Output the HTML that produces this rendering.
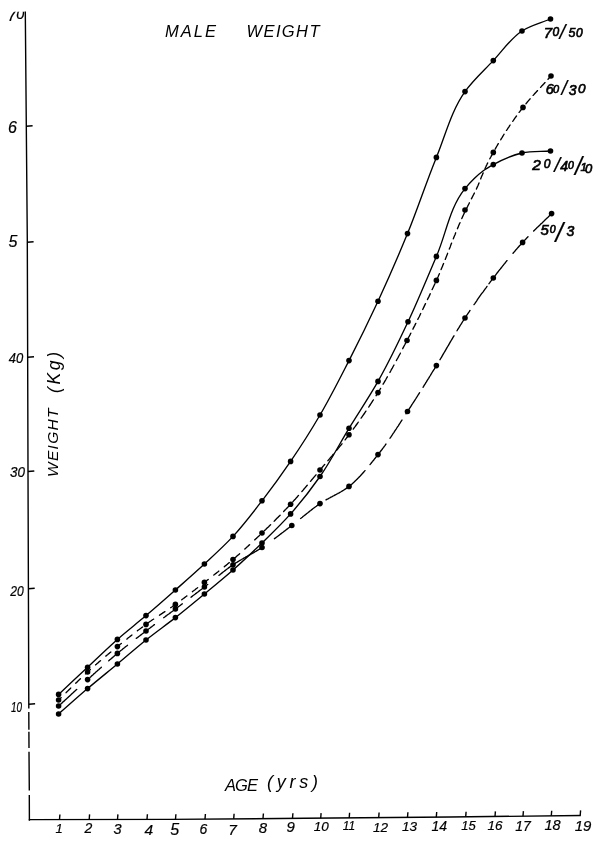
<!DOCTYPE html>
<html><head><meta charset="utf-8"><title>Male Weight</title>
<style>
html,body{margin:0;padding:0;background:#fff;}
body{width:600px;height:846px;overflow:hidden;}
svg{display:block;}
.ln{fill:none;stroke:#000;stroke-width:1.35;stroke-linecap:round;stroke-linejoin:round;}
.ax{fill:none;stroke:#000;stroke-width:1.4;stroke-linecap:butt;}
.t{font-family:"Liberation Sans",sans-serif;font-style:italic;fill:#000;}
.n{stroke:#000;stroke-width:0.2;}
.b{stroke:#000;stroke-width:0.65;}
</style></head><body>
<svg width="600" height="846" viewBox="0 0 600 846">
<defs><clipPath id="c70"><rect x="0" y="11.7" width="24.6" height="20"/></clipPath></defs>
<rect width="600" height="846" fill="#fff"/>
<path d="M25.3 11.5 L27.3 240 L28 470 L28.8 704" class="ax"/>
<path d="M28.8 704 L28.8 708.5 M28.8 712 L28.9 729.7 M28.9 731.8 L29 748 M29 751.8 L29.3 790.5 M29.3 795 L29.4 820.7" class="ax"/>
<path d="M28.8 819.6 L170 819.4 L305 818.3 L450 817 L580.8 815.5" class="ax"/>
<path d="M59.5 819.6 L59.9 814.5" class="ax"/>
<path d="M89.2 819.5 L89.6 814.4" class="ax"/>
<path d="M117.5 819.5 L117.9 814.4" class="ax"/>
<path d="M147.0 819.4 L147.4 814.3" class="ax"/>
<path d="M175.5 819.4 L175.9 814.3" class="ax"/>
<path d="M205.0 819.1 L205.4 814.0" class="ax"/>
<path d="M233.7 818.9 L234.1 813.8" class="ax"/>
<path d="M263.0 818.6 L263.4 813.5" class="ax"/>
<path d="M292.5 818.4 L292.9 813.3" class="ax"/>
<path d="M320.7 818.2 L321.1 813.1" class="ax"/>
<path d="M349.2 817.9 L349.6 812.8" class="ax"/>
<path d="M378.7 817.6 L379.1 812.5" class="ax"/>
<path d="M407.5 817.4 L407.9 812.3" class="ax"/>
<path d="M436.3 817.1 L436.7 812.0" class="ax"/>
<path d="M465.7 816.8 L466.1 811.7" class="ax"/>
<path d="M495.0 816.5 L495.4 811.4" class="ax"/>
<path d="M523.0 816.2 L523.4 811.1" class="ax"/>
<path d="M551.3 815.8 L551.7 810.7" class="ax"/>
<path d="M580.2 815.5 L580.6 810.4" class="ax"/>
<path d="M28.8 704.3 L35.1 703.8" class="ax"/>
<path d="M28.4 588.7 L34.7 588.2" class="ax"/>
<path d="M28.0 471.5 L34.3 471.0" class="ax"/>
<path d="M27.7 357.3 L34.0 356.8" class="ax"/>
<path d="M27.3 242.3 L33.6 241.8" class="ax"/>
<path d="M26.3 126.3 L32.6 125.8" class="ax"/>
<path d="M58.6 694.4 C68.3 685.3 77.9 676.3 87.6 667.2 C97.5 657.9 107.2 648.4 117.4 639.4 C126.7 631.2 136.6 623.6 146.0 615.6 C155.9 607.2 165.7 598.6 175.4 590.0 C185.1 581.4 194.9 572.8 204.4 564.0 C214.1 555.0 224.0 546.1 233.0 536.4 C243.4 525.2 252.7 512.9 262.0 500.8 C271.9 488.0 281.5 474.8 290.6 461.4 C300.9 446.3 310.8 430.8 320.0 415.0 C330.4 397.3 339.6 378.9 349.0 360.6 C359.0 341.0 368.7 321.2 378.0 301.2 C388.3 278.9 398.2 256.3 407.5 233.6 C417.8 208.5 426.1 182.5 436.4 157.4 C445.4 135.3 451.3 110.8 465.0 91.6 C473.0 80.3 483.7 70.8 493.3 60.6 C502.7 50.6 510.7 38.3 522.0 31.0 C530.5 25.5 541.0 23.0 550.5 19.0" class="ln"/>
<path d="M58.6 714.0 C68.3 705.5 77.8 696.9 87.6 688.6 C97.4 680.3 107.5 672.2 117.4 664.0 C127.0 656.0 136.3 647.8 146.0 640.0 C155.6 632.3 165.7 625.2 175.4 617.6 C185.2 609.9 194.8 601.9 204.4 594.0 C214.0 586.1 223.7 578.2 233.0 570.0 C242.9 561.3 252.5 552.2 262.0 543.0 C271.7 533.5 281.6 524.1 290.6 513.9 C301.1 502.1 310.9 489.5 320.0 476.5 C330.7 461.2 339.2 444.3 349.0 428.3 C358.6 412.6 369.0 397.4 378.0 381.4 C388.9 362.1 398.6 341.9 408.0 321.8 C418.1 300.3 427.0 278.2 436.4 256.4 C446.1 233.9 449.6 207.4 465.0 188.6 C467.8 185.2 470.8 181.8 474.0 178.7 C476.9 175.9 480.0 173.1 483.3 170.7 C486.5 168.4 489.9 166.5 493.3 164.6 C502.3 159.6 512.1 155.2 522.0 153.0 C531.2 150.9 541.0 151.7 550.5 151.0" class="ln"/>
<path d="M58.6 700.0 L59.3 699.3 L60.0 698.6 L60.8 697.9 L61.1 697.6 M66.1 692.7 L66.5 692.2 L67.2 691.5 L68.0 690.8 L68.7 690.1 L69.4 689.4 L70.1 688.7 L70.7 688.1 M75.7 683.2 L75.9 683.1 L76.6 682.4 L77.3 681.7 L78.0 681.0 L78.8 680.3 L79.5 679.6 L80.2 678.9 L80.4 678.7 M85.5 673.9 L86.1 673.4 L86.9 672.7 L87.6 672.0 L88.3 671.3 L89.1 670.7 L89.8 670.0 L90.3 669.5 M95.6 664.9 L95.6 664.8 L96.4 664.2 L97.1 663.6 L97.9 662.9 L98.6 662.3 L99.3 661.6 L100.1 661.0 L100.5 660.7 M105.8 656.1 L106.1 655.9 L106.8 655.3 L107.6 654.7 L108.3 654.1 L109.1 653.4 L109.8 652.8 L110.6 652.2 L110.8 652.0 M116.3 647.5 L116.6 647.2 L117.4 646.6 L118.1 646.0 L118.8 645.5 L119.5 644.9 L120.2 644.3 L120.9 643.8 L121.3 643.4 M126.8 639.1 L127.3 638.7 L128.0 638.1 L128.7 637.5 L129.4 637.0 L130.1 636.4 L130.8 635.9 L131.6 635.3 L131.9 635.0 M137.4 630.8 L138.0 630.3 L138.7 629.8 L139.5 629.2 L140.2 628.7 L140.9 628.2 L141.6 627.6 L142.4 627.1 L142.6 626.9 M148.3 622.8 L148.9 622.3 L149.6 621.8 L150.3 621.3 L151.1 620.8 L151.8 620.3 L152.5 619.8 L153.3 619.3 L153.6 619.1 M159.5 615.2 L159.9 614.9 L160.7 614.4 L161.4 613.9 L162.2 613.4 L162.9 612.9 L163.7 612.4 L164.4 611.9 L164.9 611.6 M170.7 607.7 L171.0 607.5 L171.8 607.0 L172.5 606.5 L173.2 605.9 L174.0 605.4 L174.7 604.9 L175.4 604.4 L176.0 604.0 M181.7 599.8 L182.0 599.6 L182.7 599.0 L183.5 598.5 L184.2 597.9 L184.9 597.4 L185.7 596.8 L186.4 596.3 L186.9 595.9 M192.4 591.7 L192.9 591.3 L193.6 590.8 L194.3 590.2 L195.1 589.7 L195.8 589.1 L196.5 588.5 L197.2 588.0 L197.6 587.7 M203.1 583.4 L203.7 583.0 L204.4 582.4 L205.1 581.8 L205.8 581.3 L206.6 580.7 L207.3 580.1 L208.0 579.6 L208.2 579.4 M213.7 575.1 L213.8 575.1 L214.5 574.5 L215.2 573.9 L216.0 573.4 L216.7 572.8 L217.4 572.2 L218.1 571.7 L218.8 571.1 L218.9 571.1 M224.3 566.7 L224.5 566.5 L225.3 565.9 L226.0 565.4 L226.7 564.8 L227.4 564.2 L228.1 563.6 L228.8 563.0 L229.3 562.6 M234.7 558.1 L235.2 557.6 L236.0 556.9 L236.7 556.3 L237.5 555.6 L238.2 555.0 L238.9 554.4 L239.6 553.8 M244.8 549.1 L244.8 549.1 L245.5 548.4 L246.2 547.8 L247.0 547.1 L247.7 546.5 L248.4 545.8 L249.1 545.1 L249.6 544.7 M254.7 539.9 L254.9 539.8 L255.6 539.1 L256.3 538.4 L257.0 537.7 L257.7 537.1 L258.4 536.4 L259.2 535.7 L259.4 535.5 M264.5 530.6 L264.9 530.2 L265.7 529.5 L266.4 528.8 L267.1 528.1 L267.8 527.4 L268.6 526.7 L269.3 525.9 L270.0 525.2 L270.6 524.7 M274.1 521.2 L274.4 521.0 L275.1 520.2 L275.8 519.5 L276.5 518.8 L277.2 518.1 L277.9 517.4 L278.7 516.6 L279.4 515.9 L280.1 515.2 L280.1 515.2 M283.6 511.6 L283.6 511.6 L284.3 510.8 L285.0 510.1 L285.7 509.4 L286.4 508.6 L287.1 507.9 L287.8 507.2 L288.5 506.4 L289.2 505.7 L289.5 505.4 M292.9 501.8 L292.9 501.7 L293.6 500.9 L294.4 500.0 L295.2 499.2 L295.9 498.4 L296.7 497.5 L297.4 496.7 L298.1 495.8 L298.5 495.4 M301.8 491.6 L301.8 491.6 L302.6 490.7 L303.3 489.9 L304.0 489.0 L304.8 488.1 L305.5 487.3 L306.2 486.4 L307.0 485.6 L307.3 485.2 M310.5 481.3 L310.6 481.2 L311.3 480.4 L312.0 479.5 L312.8 478.6 L313.5 477.8 L314.2 476.9 L314.9 476.1 L315.7 475.2 L316.0 474.8 M319.2 471.0 L319.3 470.9 L320.0 470.0 L320.7 469.1 L321.5 468.3 L322.2 467.4 L322.9 466.5 L323.7 465.6 L324.4 464.8 L324.7 464.5 M327.9 460.7 L328.1 460.4 L328.8 459.6 L329.6 458.7 L330.3 457.8 L331.1 456.9 L331.8 456.1 L332.5 455.2 L333.3 454.3 L333.4 454.2 M336.6 450.3 L336.9 450.0 L337.7 449.1 L338.4 448.2 L339.1 447.3 L339.8 446.4 L340.5 445.5 L341.3 444.7 L342.0 443.8 L342.0 443.8 M345.1 439.9 L345.5 439.3 L346.2 438.4 L346.9 437.5 L347.6 436.6 L348.3 435.7 L349.0 434.8 L349.8 433.8 L350.3 433.1 M353.3 429.1 L353.6 428.6 L354.3 427.6 L355.1 426.6 L355.9 425.5 L356.6 424.5 L357.4 423.5 L358.1 422.4 L358.2 422.2 M361.1 418.1 L361.8 417.2 L362.5 416.1 L363.2 415.1 L364.0 414.0 L364.7 413.0 L365.4 411.9 L365.9 411.1 M368.7 407.0 L369.0 406.6 L369.7 405.5 L370.4 404.5 L371.1 403.4 L371.8 402.3 L372.5 401.2 L373.2 400.2 L373.4 399.9 M376.1 395.7 L376.6 394.8 L377.3 393.7 L378.0 392.6 L378.8 391.3 L379.6 390.1 L380.3 388.8 L380.6 388.4 M383.1 384.2 L383.4 383.7 L384.2 382.4 L384.9 381.1 L385.7 379.8 L386.4 378.5 L387.2 377.2 L387.4 376.8 M389.9 372.5 L390.1 372.1 L390.8 370.8 L391.5 369.4 L392.3 368.1 L393.0 366.8 L393.7 365.5 L394.0 365.0 M396.4 360.6 L396.5 360.3 L397.2 359.0 L398.0 357.6 L398.7 356.3 L399.4 355.0 L400.1 353.7 L400.4 353.1 M402.7 348.7 L402.8 348.4 L403.5 347.1 L404.2 345.8 L404.9 344.5 L405.6 343.1 L405.7 342.9 M407.8 339.0 L408.5 337.5 L409.3 336.1 L410.1 334.6 L410.8 333.2 M412.9 329.2 L413.1 328.6 L413.9 327.1 L414.7 325.6 L415.4 324.1 L415.8 323.4 M417.8 319.4 L418.4 318.2 L419.2 316.7 L419.9 315.2 L420.6 313.7 L420.7 313.5 M422.7 309.5 L422.9 309.2 L423.6 307.6 L424.3 306.1 L425.0 304.6 L425.5 303.6 M427.5 299.6 L427.9 298.6 L428.7 297.1 L429.4 295.6 L430.1 294.1 L430.2 293.7 M432.1 289.6 L432.2 289.5 L432.9 288.0 L433.6 286.5 L434.3 285.0 L434.9 283.7 M436.7 279.6 L437.2 278.7 L438.0 276.9 L438.7 275.2 L439.4 273.7 M441.1 269.6 L441.7 268.1 L442.4 266.4 L443.1 264.6 L443.6 263.5 M445.3 259.4 L445.3 259.3 L446.0 257.5 L446.7 255.8 L447.4 254.0 L447.6 253.3 M449.3 249.1 L449.5 248.6 L450.2 246.9 L450.8 245.1 L451.5 243.3 L451.6 243.1 M453.3 238.9 L453.6 238.0 L454.3 236.2 L455.1 234.4 L455.7 232.8 M457.4 228.7 L458.0 227.4 L458.7 225.6 L459.4 223.9 L460.0 222.7 M461.8 218.6 L462.5 216.9 L463.3 215.2 L464.1 213.4 L464.5 212.7 M466.5 208.6 L466.5 208.5 L466.7 208.2 L466.8 207.9 L467.0 207.7 L467.1 207.4 L467.3 207.1 L467.4 206.8 L467.6 206.5 L467.7 206.2 L467.8 205.9 L468.0 205.6 L468.1 205.3 L468.3 205.0 L468.4 204.7 L468.6 204.4 L468.7 204.1 L468.9 203.9 L469.0 203.6 L469.2 203.3 L469.3 203.0 L469.4 202.8 M471.4 198.8 L471.6 198.6 L471.7 198.3 L471.8 198.0 L472.0 197.8 L472.1 197.5 L472.2 197.2 L472.4 197.0 L472.5 196.7 L472.7 196.4 L472.8 196.1 L472.9 195.9 L473.1 195.6 L473.2 195.3 L473.3 195.1 L473.5 194.8 L473.6 194.5 L473.8 194.3 L473.9 194.0 L474.0 193.7 L474.2 193.5 L474.3 193.2 L474.4 193.0 M476.4 189.0 L476.5 188.9 L476.6 188.6 L476.7 188.3 L476.8 188.0 L477.0 187.8 L477.1 187.5 L477.2 187.2 L477.4 186.9 L477.5 186.6 L477.6 186.3 L477.8 186.0 L477.9 185.7 L478.0 185.4 L478.2 185.1 L478.3 184.8 L478.4 184.5 L478.5 184.2 L478.7 183.9 L478.8 183.6 L478.9 183.3 L479.0 183.0 M480.7 178.9 L480.7 178.7 L480.8 178.4 L481.0 178.1 L481.1 177.8 L481.2 177.5 L481.3 177.2 L481.5 176.9 L481.6 176.6 L481.7 176.3 L481.8 176.0 L482.0 175.7 L482.1 175.4 L482.2 175.1 L482.4 174.8 L482.5 174.5 L482.6 174.2 L482.8 173.9 L482.9 173.6 L483.0 173.3 L483.1 173.0 L483.2 172.9 M485.0 168.7 L485.0 168.7 L485.1 168.4 L485.3 168.1 L485.4 167.8 L485.5 167.5 L485.7 167.2 L485.8 166.9 L485.9 166.6 L486.1 166.3 L486.2 166.0 L486.4 165.7 L486.5 165.4 L486.6 165.1 L486.8 164.8 L486.9 164.5 L487.1 164.2 L487.2 163.9 L487.4 163.6 L487.5 163.3 L487.6 163.0 L487.7 162.9 M489.8 158.9 L489.9 158.6 L490.0 158.4 L490.2 158.1 L490.3 157.8 L490.5 157.5 L490.6 157.3 L490.8 157.0 L490.9 156.7 L491.1 156.5 L491.2 156.2 L491.4 155.9 L491.5 155.6 L491.7 155.4 L491.8 155.1 L492.0 154.8 L492.1 154.6 L492.3 154.3 L492.4 154.0 L492.6 153.7 L492.7 153.5 L492.9 153.2 L492.9 153.1 M495.1 149.2 L495.3 148.9 L496.0 147.7 L496.6 146.5 L497.3 145.4 L498.0 144.2 L498.3 143.6 M500.7 139.7 L500.8 139.6 L501.5 138.4 L502.2 137.3 L502.9 136.1 L503.6 135.0 L504.1 134.2 M506.5 130.4 L506.5 130.4 L507.3 129.3 L508.0 128.2 L508.8 127.1 L509.5 125.9 L510.1 125.0 M512.7 121.3 L513.4 120.4 L514.1 119.3 L514.9 118.2 L515.7 117.1 L516.5 116.0 M519.1 112.4 L519.7 111.7 L520.5 110.6 L521.3 109.5 L522.2 108.5 L523.0 107.4 L523.1 107.3 M525.9 103.8 L526.3 103.3 L527.0 102.5 L527.6 101.7 L528.3 100.9 L529.0 100.1 L529.7 99.3 L530.1 98.8 M533.1 95.4 L533.2 95.4 L533.9 94.6 L534.6 93.8 L535.3 93.0 L536.0 92.3 L536.7 91.5 L537.4 90.7 L537.5 90.6 M540.6 87.3 L541.0 86.9 L541.7 86.1 L542.5 85.3 L543.2 84.5 L543.9 83.8 L544.6 83.0 L545.0 82.6 M548.0 79.3 L548.2 79.1 L548.9 78.3 L549.6 77.6 L550.3 76.8 L551.0 76.0" class="ln"/>
<path d="M58.6 706.0 L59.3 705.3 L60.0 704.7 L60.8 704.0 L61.5 703.4 L62.2 702.7 L62.9 702.0 L63.7 701.4 L64.4 700.7 L65.1 700.1 L65.8 699.4 L66.6 698.7 L67.3 698.1 L68.0 697.4 L68.7 696.7 L69.5 696.1 L70.2 695.4 L70.9 694.8 L71.6 694.1 L72.3 693.4 L73.1 692.8 L73.8 692.1 L74.5 691.4 L75.2 690.8 L76.0 690.1 L76.7 689.5 L76.7 689.5 M90.0 677.4 L90.6 677.0 L91.3 676.3 L92.0 675.6 L92.8 675.0 L93.5 674.3 L94.2 673.6 L95.0 673.0 L95.7 672.3 L96.5 671.6 L97.2 671.0 L97.9 670.3 L98.7 669.7 L99.4 669.0 L100.2 668.3 L100.9 667.7 L101.3 667.3 M108.7 660.8 L109.1 660.5 L109.8 659.8 L110.6 659.2 L111.3 658.5 L112.1 657.9 L112.8 657.2 L113.6 656.6 L114.4 655.9 L115.1 655.3 L115.9 654.7 L116.6 654.0 L117.4 653.4 L118.1 652.8 L118.8 652.2 L119.5 651.7 L120.2 651.1 L120.9 650.5 L121.6 650.0 L122.3 649.4 L123.0 648.8 L123.7 648.2 L124.5 647.7 L125.2 647.1 L125.9 646.5 L126.6 646.0 L127.3 645.4 L127.5 645.3 M136.3 638.4 L136.6 638.2 L137.3 637.6 L138.1 637.1 L138.8 636.5 L139.5 636.0 L140.2 635.4 L141.0 634.9 L141.7 634.3 L142.4 633.8 L143.1 633.2 L143.8 632.7 L144.6 632.1 L145.3 631.6 L146.0 631.0 L146.7 630.4 L147.5 629.9 L148.2 629.3 L148.9 628.8 L149.7 628.2 L150.4 627.7 L151.1 627.1 L151.9 626.6 L152.6 626.0 L153.3 625.5 L154.1 624.9 L154.4 624.6 M163.7 617.7 L164.4 617.2 L165.1 616.7 L165.8 616.1 L166.6 615.6 L167.3 615.0 L168.0 614.5 L168.8 614.0 L169.5 613.4 L170.3 612.9 L171.0 612.3 L171.7 611.8 L172.5 611.2 L173.2 610.7 L173.9 610.1 L174.7 609.6 L175.4 609.0 L176.1 608.5 L176.9 607.9 L177.6 607.4 L178.3 606.8 L179.0 606.3 L179.8 605.7 L180.5 605.2 L181.2 604.6 L181.9 604.1 L182.3 603.8 M191.0 597.2 L191.4 596.9 L192.1 596.4 L192.8 595.8 L193.5 595.3 L194.3 594.7 L195.0 594.2 L195.7 593.6 L196.4 593.1 L197.2 592.5 L197.9 592.0 L198.6 591.4 L199.3 590.9 L200.1 590.3 L200.8 589.8 L201.5 589.2 L202.2 588.7 L203.0 588.1 L203.7 587.6 L204.4 587.0 L205.1 586.4 L205.8 585.9 L206.5 585.3 L207.3 584.8 L207.7 584.4 M219.0 575.3 L219.3 575.1 L220.0 574.6 L220.7 574.0 L221.4 573.4 L222.1 572.9 L222.8 572.3 L223.5 571.7 L224.2 571.2 L225.0 570.6 L225.7 570.1 L226.4 569.5 L227.1 569.0 L227.8 568.5 L228.6 567.9 L229.3 567.4 L230.0 566.9 L230.8 566.3 L231.5 565.8 L232.3 565.3 L233.0 564.8 L233.7 564.3 L234.4 563.9 L235.1 563.4 L235.8 562.9 L236.5 562.5 L237.2 562.1 L238.0 561.6 L238.7 561.2 L239.4 560.7 L240.1 560.3 L240.9 559.9 L241.6 559.5 L242.3 559.0 L243.1 558.6 L243.8 558.2 L244.5 557.8 L245.3 557.4 L246.0 556.9 L246.7 556.5 L247.5 556.1 L248.2 555.7 L248.9 555.3 L249.7 554.9 L250.4 554.5 L251.2 554.0 L251.9 553.6 L252.6 553.2 L253.4 552.8 L254.1 552.4 L254.8 551.9 L255.5 551.5 L256.3 551.1 L257.0 550.6 L257.7 550.2 L258.4 549.8 L259.2 549.3 L259.9 548.9 L260.6 548.4 L261.3 548.0 L262.0 547.5 M274.4 538.7 L274.8 538.4 L275.6 537.9 L276.3 537.3 L277.1 536.7 L277.8 536.2 L278.5 535.6 L279.3 535.1 L280.0 534.5 L280.8 533.9 L281.5 533.4 L282.2 532.8 L283.0 532.3 L283.7 531.7 L284.4 531.1 L285.2 530.6 L285.9 530.0 L286.6 529.4 L287.4 528.9 L288.1 528.3 L288.9 527.7 L289.6 527.2 L290.3 526.6 L291.1 526.1 L291.6 525.7 M300.6 518.5 L300.9 518.3 L301.6 517.7 L302.3 517.2 L303.0 516.6 L303.7 516.0 L304.4 515.5 L305.1 514.9 L305.8 514.4 L306.5 513.8 L307.2 513.2 L307.9 512.7 L308.6 512.1 L309.3 511.6 L310.0 511.0 L310.7 510.5 L311.4 509.9 L312.1 509.4 L312.8 508.8 L313.5 508.3 L314.2 507.7 L314.9 507.2 L315.6 506.7 L316.4 506.2 L317.1 505.6 L317.8 505.1 L318.5 504.6 L319.3 504.1 L320.0 503.6 M326.0 499.9 L326.5 499.6 L327.2 499.2 L328.0 498.8 L328.7 498.4 L329.5 498.0 L330.2 497.6 L330.9 497.2 L331.7 496.8 L332.4 496.4 L333.2 496.0 L334.0 495.6 L334.7 495.2 L335.4 494.8 L336.2 494.4 L336.9 494.0 L337.7 493.6 L338.4 493.2 L339.2 492.8 L339.9 492.4 L340.6 492.0 L341.4 491.5 L342.1 491.1 L342.8 490.7 L343.5 490.2 L344.2 489.8 L344.9 489.3 L345.6 488.9 L346.3 488.4 L347.0 487.9 L347.7 487.4 L348.3 486.9 L349.0 486.4 L349.8 485.7 L350.7 485.1 L351.5 484.4 L352.3 483.7 L353.1 483.0 L353.9 482.3 L354.7 481.5 L355.4 480.8 L356.2 480.1 L357.0 479.3 L357.7 478.5 L358.5 477.8 L359.2 477.0 L360.0 476.2 L360.7 475.4 L361.5 474.6 L362.2 473.8 L362.9 473.0 L363.6 472.2 L364.3 471.4 L365.0 470.6 M370.0 464.6 L370.6 463.9 L371.3 463.0 L371.9 462.2 L372.6 461.4 L373.3 460.5 L374.0 459.7 L374.6 458.8 L375.3 458.0 L376.0 457.1 L376.7 456.3 L377.3 455.4 L378.0 454.6 L378.8 453.6 L379.6 452.6 L380.4 451.5 L381.2 450.5 L382.0 449.5 L382.8 448.4 L383.6 447.4 L384.3 446.3 L385.1 445.3 L385.9 444.2 L386.0 444.0 M390.0 438.2 L390.3 437.8 L391.1 436.7 L391.8 435.6 L392.5 434.5 L393.2 433.4 L394.0 432.3 L394.7 431.2 L395.4 430.1 L396.1 429.1 L396.8 428.0 L397.5 426.9 L398.3 425.8 L399.0 424.7 L399.7 423.6 L400.4 422.5 L401.1 421.4 L401.8 420.3 L402.0 420.0 M406.0 413.8 L406.1 413.7 L406.8 412.6 L407.5 411.5 L408.2 410.4 L409.0 409.2 L409.7 408.1 L410.5 407.0 L411.2 405.8 L411.9 404.7 L412.7 403.5 L413.4 402.4 L414.1 401.3 L414.9 400.1 L415.6 399.0 L416.3 397.8 L417.1 396.7 L417.8 395.5 L418.5 394.4 L419.2 393.3 L419.6 392.7 M423.0 387.3 L423.6 386.4 L424.3 385.2 L425.0 384.1 L425.7 382.9 L426.4 381.8 L427.1 380.6 L427.9 379.4 L428.6 378.3 L429.3 377.1 L430.0 376.0 L430.7 374.8 L431.4 373.7 L432.1 372.5 L432.8 371.4 L433.6 370.2 L434.3 369.1 L435.0 367.9 L435.7 366.8 L436.4 365.6 M440.0 359.7 L440.7 358.5 L441.4 357.3 L442.1 356.1 L442.8 354.9 L443.5 353.7 L444.2 352.5 L444.9 351.3 L445.6 350.1 L446.3 348.9 L447.0 347.7 L447.7 346.5 L448.4 345.3 L449.1 344.1 L449.8 342.9 L450.5 341.7 L451.2 340.5 L451.9 339.3 L452.6 338.1 L453.3 336.9 L454.0 335.8 M457.0 330.8 L457.6 329.7 L458.3 328.6 L459.1 327.4 L459.8 326.2 L460.5 325.0 L461.3 323.8 L462.0 322.7 L462.7 321.5 L463.5 320.3 L464.2 319.2 L465.0 318.0 L465.7 317.0 L466.3 316.0 L467.0 314.9 L467.7 313.9 L468.4 312.9 L469.1 311.9 L469.7 310.9 L470.0 310.5 M474.0 304.6 L474.6 303.8 L475.3 302.8 L476.0 301.8 L476.7 300.8 L477.4 299.7 L478.1 298.7 L478.8 297.7 L479.5 296.7 L480.2 295.7 L480.9 294.7 L481.6 293.7 L482.3 292.8 L483.1 291.8 L483.8 290.8 L484.5 289.8 L485.2 288.8 L486.0 287.8 L486.7 286.8 L487.0 286.4 M489.0 283.7 L489.6 282.9 L490.3 281.9 L491.1 280.9 L491.8 279.9 L492.6 279.0 L493.3 278.0 L494.0 277.1 L494.7 276.2 L495.4 275.3 L496.1 274.3 L496.8 273.4 L497.5 272.5 L498.2 271.6 L498.9 270.7 L499.6 269.8 L500.4 268.9 L501.1 268.0 L501.8 267.1 L502.5 266.2 L503.2 265.3 L503.9 264.4 L504.7 263.5 L505.4 262.6 L506.1 261.7 L506.8 260.8 L507.0 260.6 M513.0 253.3 L513.5 252.8 L514.2 251.9 L515.0 251.0 L515.7 250.1 L516.5 249.3 L517.2 248.4 L518.0 247.5 L518.7 246.7 L519.5 245.8 L520.3 245.0 L521.1 244.1 L521.8 243.3 L522.6 242.4 L523.3 241.6 L524.0 240.9 L524.7 240.2 L525.4 239.4 L526.1 238.7 L526.8 237.9 L527.5 237.2 L528.0 236.7 M533.6 231.1 L534.0 230.7 L534.7 230.0 L535.5 229.3 L536.2 228.6 L536.9 227.8 L537.7 227.1 L538.4 226.4 L539.1 225.7 L539.9 225.0 L540.6 224.3 L541.3 223.6 L542.1 222.9 L542.8 222.2 L543.5 221.4 L544.3 220.7 L545.0 220.0 L545.8 219.3 L546.5 218.6 L547.2 217.9 L548.0 217.2 L548.7 216.5 L549.4 215.8 L550.1 215.0 L550.9 214.3 L551.6 213.6" class="ln"/>
<g fill="#000"><circle cx="58.6" cy="694.4" r="2.8"/><circle cx="87.6" cy="667.2" r="2.8"/><circle cx="117.4" cy="639.4" r="2.8"/><circle cx="146.0" cy="615.6" r="2.8"/><circle cx="175.4" cy="590.0" r="2.8"/><circle cx="204.4" cy="564.0" r="2.8"/><circle cx="233.0" cy="536.4" r="2.8"/><circle cx="262.0" cy="500.8" r="2.8"/><circle cx="290.6" cy="461.4" r="2.8"/><circle cx="320.0" cy="415.0" r="2.8"/><circle cx="349.0" cy="360.6" r="2.8"/><circle cx="378.0" cy="301.2" r="2.8"/><circle cx="407.5" cy="233.6" r="2.8"/><circle cx="436.4" cy="157.4" r="2.8"/><circle cx="465.0" cy="91.6" r="2.8"/><circle cx="493.3" cy="60.6" r="2.8"/><circle cx="522.0" cy="31.0" r="2.8"/><circle cx="550.5" cy="19.0" r="2.8"/><circle cx="58.6" cy="714.0" r="2.8"/><circle cx="87.6" cy="688.6" r="2.8"/><circle cx="117.4" cy="664.0" r="2.8"/><circle cx="146.0" cy="640.0" r="2.8"/><circle cx="175.4" cy="617.6" r="2.8"/><circle cx="204.4" cy="594.0" r="2.8"/><circle cx="233.0" cy="570.0" r="2.8"/><circle cx="262.0" cy="543.0" r="2.8"/><circle cx="290.6" cy="513.9" r="2.8"/><circle cx="320.0" cy="476.5" r="2.8"/><circle cx="349.0" cy="428.3" r="2.8"/><circle cx="378.0" cy="381.4" r="2.8"/><circle cx="408.0" cy="321.8" r="2.8"/><circle cx="436.4" cy="256.4" r="2.8"/><circle cx="465.0" cy="188.6" r="2.8"/><circle cx="493.3" cy="164.6" r="2.8"/><circle cx="522.0" cy="153.0" r="2.8"/><circle cx="550.5" cy="151.0" r="2.8"/><circle cx="58.6" cy="700.0" r="2.8"/><circle cx="87.6" cy="672.0" r="2.8"/><circle cx="117.4" cy="646.6" r="2.8"/><circle cx="146.0" cy="624.4" r="2.8"/><circle cx="175.4" cy="604.4" r="2.8"/><circle cx="204.4" cy="582.4" r="2.8"/><circle cx="233.0" cy="559.5" r="2.8"/><circle cx="262.0" cy="533.0" r="2.8"/><circle cx="290.6" cy="504.2" r="2.8"/><circle cx="320.0" cy="470.0" r="2.8"/><circle cx="349.0" cy="434.8" r="2.8"/><circle cx="378.0" cy="392.6" r="2.8"/><circle cx="407.0" cy="340.5" r="2.8"/><circle cx="436.4" cy="280.4" r="2.8"/><circle cx="465.0" cy="210.0" r="2.8"/><circle cx="493.3" cy="152.4" r="2.8"/><circle cx="523.0" cy="107.4" r="2.8"/><circle cx="551.0" cy="76.0" r="2.8"/><circle cx="58.6" cy="706.0" r="2.8"/><circle cx="87.6" cy="679.6" r="2.8"/><circle cx="117.4" cy="653.4" r="2.8"/><circle cx="146.0" cy="631.0" r="2.8"/><circle cx="175.4" cy="609.0" r="2.8"/><circle cx="204.4" cy="587.0" r="2.8"/><circle cx="233.0" cy="564.8" r="2.8"/><circle cx="262.0" cy="547.5" r="2.8"/><circle cx="291.8" cy="525.5" r="2.8"/><circle cx="320.0" cy="503.6" r="2.8"/><circle cx="349.0" cy="486.4" r="2.8"/><circle cx="378.0" cy="454.6" r="2.8"/><circle cx="407.5" cy="411.5" r="2.8"/><circle cx="436.4" cy="365.6" r="2.8"/><circle cx="465.0" cy="318.0" r="2.8"/><circle cx="493.3" cy="278.0" r="2.8"/><circle cx="522.6" cy="242.4" r="2.8"/><circle cx="551.6" cy="213.6" r="2.8"/></g>
<text x="59.0" y="833.0" text-anchor="middle" class="t n" font-size="13">1</text>
<text x="88.4" y="833.0" text-anchor="middle" class="t n" font-size="14">2</text>
<text x="117.5" y="834.0" text-anchor="middle" class="t n" font-size="14.5">3</text>
<text x="148.7" y="834.5" text-anchor="middle" class="t n" font-size="15.5">4</text>
<text x="174.7" y="834.5" text-anchor="middle" class="t n" font-size="16">5</text>
<text x="203.5" y="833.7" text-anchor="middle" class="t n" font-size="14">6</text>
<text x="232.5" y="834.5" text-anchor="middle" class="t n" font-size="15.5">7</text>
<text x="263.0" y="832.5" text-anchor="middle" class="t n" font-size="15">8</text>
<text x="290.6" y="832.0" text-anchor="middle" class="t n" font-size="15">9</text>
<text x="321.3" y="831.3" text-anchor="middle" class="t n" font-size="13.5">10</text>
<text x="349.0" y="830.0" text-anchor="middle" class="t n" font-size="12">11</text>
<text x="380.6" y="832.0" text-anchor="middle" class="t n" font-size="13.5">12</text>
<text x="409.6" y="830.5" text-anchor="middle" class="t n" font-size="13.5">13</text>
<text x="439.3" y="831.2" text-anchor="middle" class="t n" font-size="14">14</text>
<text x="468.5" y="829.7" text-anchor="middle" class="t n" font-size="13">15</text>
<text x="495.0" y="830.0" text-anchor="middle" class="t n" font-size="13.5">16</text>
<text x="523.1" y="831.0" text-anchor="middle" class="t n" font-size="14">17</text>
<text x="552.5" y="830.0" text-anchor="middle" class="t n" font-size="14.5">18</text>
<text x="583.1" y="831.0" text-anchor="middle" class="t n" font-size="15">19</text>
<text x="16.5" y="711.5" text-anchor="middle" class="t n" font-size="15.5" textLength="11" lengthAdjust="spacingAndGlyphs">10</text>
<text x="17.1" y="595.5" text-anchor="middle" class="t n" font-size="14.5" textLength="13.5" lengthAdjust="spacingAndGlyphs">20</text>
<text x="17.4" y="477.0" text-anchor="middle" class="t n" font-size="15.5" textLength="15" lengthAdjust="spacingAndGlyphs">30</text>
<text x="16.0" y="363.0" text-anchor="middle" class="t n" font-size="15.5" textLength="14.5" lengthAdjust="spacingAndGlyphs">40</text>
<text x="13.0" y="247.0" text-anchor="middle" class="t n" font-size="16">5</text>
<text x="12.5" y="133.0" text-anchor="middle" class="t n" font-size="16">6</text>
<g clip-path="url(#c70)"><text class="t n"><tspan x="7.5" y="21" font-size="16">7</tspan><tspan x="16.3" y="18.6" font-size="14.5">0</tspan></text></g>
<text x="165" y="36.5" class="t" font-size="16.5" textLength="51" lengthAdjust="spacing">MALE</text>
<text x="246.5" y="36.5" class="t" font-size="16.5" textLength="73" lengthAdjust="spacing">WEIGHT</text>
<text x="225" y="791" class="t" font-size="16.5" textLength="33" lengthAdjust="spacing">AGE</text>
<text x="267" y="787.5" class="t" font-size="18" textLength="51" lengthAdjust="spacing">(yrs)</text>
<text transform="translate(58,477) rotate(-90)" class="t" font-size="15.5" textLength="68.5" lengthAdjust="spacing">WEIGHT</text>
<text transform="translate(60,393) rotate(-90)" class="t" font-size="17.5" textLength="41" lengthAdjust="spacing">(Kg)</text>
<text class="t b"><tspan x="543.7" y="37.8" font-size="15">7</tspan><tspan x="552.6" y="36.0" font-size="12">0</tspan><tspan x="559.5" y="39.0" font-size="21" stroke-width="0.15">/</tspan><tspan x="568.6" y="37.2" font-size="12.5">5</tspan><tspan x="576.1" y="37.0" font-size="12">0</tspan></text>
<text class="t b"><tspan x="545.8" y="94.0" font-size="14.5">6</tspan><tspan x="553.1" y="92.6" font-size="11">0</tspan><tspan x="561.5" y="94.6" font-size="20" stroke-width="0.15">/</tspan><tspan x="568.7" y="94.5" font-size="14">3</tspan><tspan x="578.0" y="93.4" font-size="13.5">0</tspan></text>
<text class="t b"><tspan x="532.3" y="170.0" font-size="15.5">2</tspan><tspan x="543.7" y="168.4" font-size="12">0</tspan><tspan x="554.3" y="171.5" font-size="21" stroke-width="0.15">/</tspan><tspan x="560.3" y="171.2" font-size="14">4</tspan><tspan x="568.0" y="169.0" font-size="10.5">0</tspan><tspan x="575.0" y="175.0" font-size="25" stroke-width="0.15">/</tspan><tspan x="580.5" y="170.8" font-size="11.5">1</tspan><tspan x="585.0" y="172.5" font-size="13">0</tspan></text>
<text class="t b"><tspan x="540.4" y="235.0" font-size="15">5</tspan><tspan x="549.8" y="233.2" font-size="10.5">0</tspan><tspan x="555.5" y="241.5" font-size="27" stroke-width="0.15">/</tspan><tspan x="566.5" y="235.6" font-size="14">3</tspan></text>
</svg>
</body></html>
